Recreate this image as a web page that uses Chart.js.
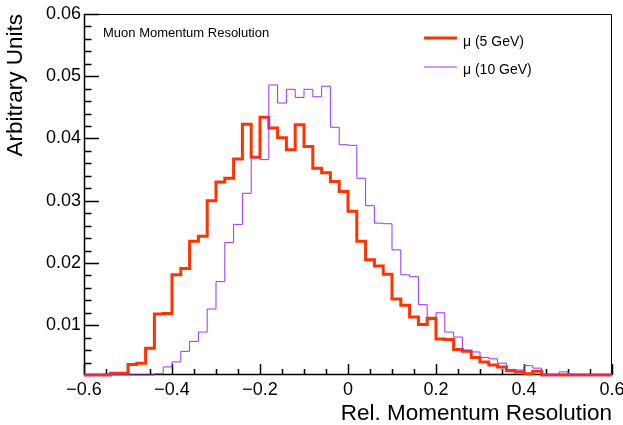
<!DOCTYPE html>
<html>
<head>
<meta charset="utf-8">
<script src="https://cdn.jsdelivr.net/npm/chart.js@4.4.1/dist/chart.umd.min.js"></script>
<style>
  html, body { margin: 0; padding: 0; background: #ffffff; }
  #wrap { width: 623px; height: 425px; }
</style>
</head>
<body>
<div id="wrap"><canvas id="c" width="623" height="425"></canvas></div>
<script>
// ---------------- data ----------------
const X_MIN = -0.6, X_MAX = 0.6, BIN_WIDTH = 0.02;
const Y_MIN = 0.002, Y_MAX = 0.06;
const X_TICKS = [-0.6, -0.4, -0.2, 0, 0.2, 0.4, 0.6];
const X_TICK_LABELS = ['\u22120.6', '\u22120.4', '\u22120.2', '0', '0.2', '0.4', '0.6'];
const Y_TICKS = [0.01, 0.02, 0.03, 0.04, 0.05, 0.06];
const Y_TICK_LABELS = ['0.01', '0.02', '0.03', '0.04', '0.05', '0.06'];
const X_MINOR_STEP = 0.05, Y_MINOR_STEP = 0.002;
const SERIES_LABELS = ['\u03bc (5 GeV)', '\u03bc (10 GeV)'];
const PLOT_LABEL = 'Muon Momentum Resolution';
const X_TITLE = 'Rel. Momentum Resolution';
const Y_TITLE = 'Arbitrary Units';

// bin contents, 60 bins of width 0.02 from -0.6 to 0.6
const mu5GeV = [
  0.001, 0.001, 0.001, 0.0023, 0.0023, 0.0037, 0.0039, 0.0063, 0.0118, 0.0119,
  0.0181, 0.0191, 0.0235, 0.0243, 0.0300, 0.0330, 0.0336, 0.0367, 0.0423, 0.0370,
  0.0434, 0.0417, 0.0401, 0.0382, 0.0422, 0.0387, 0.0352, 0.0345, 0.0331, 0.0315,
  0.0283, 0.0235, 0.0205, 0.0195, 0.0182, 0.0142, 0.0132, 0.0113, 0.0101, 0.0111,
  0.0078, 0.0077, 0.0061, 0.0058, 0.0048, 0.0041, 0.0036, 0.0033, 0.0027, 0.0025,
  0.0022, 0.0026, 0.001, 0.001, 0.001, 0.001, 0.001, 0.001, 0.001, 0.001
];
const mu10GeV = [
  0.001, 0.001, 0.001, 0.001, 0.001, 0.001, 0.001, 0.001, 0.0022, 0.0033,
  0.0041, 0.0058, 0.0074, 0.0089, 0.0126, 0.0170, 0.0233, 0.0262, 0.0312, 0.0370,
  0.0366, 0.0486, 0.0457, 0.0479, 0.0466, 0.0479, 0.0467, 0.0484, 0.0418, 0.0390,
  0.0389, 0.0336, 0.0292, 0.0264, 0.0263, 0.0221, 0.0181, 0.0178, 0.0133, 0.0109,
  0.0120, 0.0089, 0.0081, 0.0060, 0.0057, 0.0048, 0.0046, 0.0039, 0.0029, 0.0028,
  0.0035, 0.0031, 0.001, 0.001, 0.0025, 0.001, 0.001, 0.001, 0.001, 0.001
];

// ---------------- helpers ----------------
function histPoints(vals) {
  // ROOT draws bins below the frame minimum along the frame bottom
  const pts = vals.map((v, i) => ({ x: +(X_MIN + i * BIN_WIDTH).toFixed(4), y: Math.max(v, Y_MIN) }));
  pts.push({ x: X_MAX, y: Math.max(vals[vals.length - 1], Y_MIN) });
  return pts;
}

const FONT = "'Liberation Sans', Arial, Helvetica, sans-serif";

const rootStyle = {
  id: 'rootStyle',
  beforeDatasetsDraw(chart) {
    const { ctx, chartArea: a, scales: { x, y } } = chart;
    ctx.save();
    ctx.strokeStyle = '#000';
    ctx.lineWidth = 1;
    // frame
    ctx.beginPath();
    ctx.moveTo(a.left + 0.5, a.top + 0.5);
    ctx.lineTo(a.right - 0.5, a.top + 0.5);
    ctx.lineTo(a.right - 0.5, a.bottom - 0.5);
    ctx.stroke();
    ctx.lineWidth = 1.5;
    ctx.beginPath();
    ctx.moveTo(a.left + 0.5, a.top);
    ctx.lineTo(a.left + 0.5, a.bottom - 0.5);
    ctx.lineTo(a.right, a.bottom - 0.5);
    ctx.stroke();
    // y ticks (inside)
    ctx.lineWidth = 1.5;
    ctx.beginPath();
    const nyMinor = Math.round((Y_MAX - Y_MIN) / Y_MINOR_STEP);
    for (let k = 0; k <= nyMinor; k++) {
      const v = Y_MIN + k * Y_MINOR_STEP;
      const isMajor = Y_TICKS.some(t => Math.abs(t - v) < 1e-9);
      const py = Math.round(y.getPixelForValue(v)) + 0.5;
      if (py > a.bottom - 1) continue;
      const len = isMajor ? 15 : 7.5;
      ctx.moveTo(a.left, py);
      ctx.lineTo(a.left + len, py);
    }
    // x ticks (inside)
    const nxMinor = Math.round((X_MAX - X_MIN) / X_MINOR_STEP);
    for (let k = 0; k <= nxMinor; k++) {
      const v = X_MIN + k * X_MINOR_STEP;
      const isMajor = X_TICKS.some(t => Math.abs(t - v) < 1e-9);
      const px = Math.round(x.getPixelForValue(v)) + 0.5;
      const len = isMajor ? 11 : 6;
      ctx.moveTo(px, a.bottom);
      ctx.lineTo(px, a.bottom - len);
    }
    ctx.stroke();
    ctx.restore();
  },
  afterDraw(chart) {
    const { ctx } = chart;
    ctx.save();
    ctx.fillStyle = '#000';
    ctx.textBaseline = 'alphabetic';
    ctx.textAlign = 'left';
    ctx.font = '13px ' + FONT;
    ctx.fillText(PLOT_LABEL, 103, 37);
    // legend
    const rows = [{ ly: 38, ty: 45.7 }, { ly: 67, ty: 74.3 }];
    chart.data.datasets.forEach((ds, i) => {
      ctx.strokeStyle = ds.borderColor;
      ctx.lineWidth = ds.borderWidth;
      ctx.beginPath();
      ctx.moveTo(424, rows[i].ly);
      ctx.lineTo(457, rows[i].ly);
      ctx.stroke();
      ctx.font = '14px ' + FONT;
      ctx.fillStyle = '#000';
      ctx.fillText(ds.label, 463, rows[i].ty);
    });
    ctx.restore();
  }
};

function noLabelPadding(s) {
  s.paddingLeft = 0; s.paddingRight = 0; s.paddingTop = 0; s.paddingBottom = 0;
}

new Chart(document.getElementById('c'), {
  type: 'line',
  data: {
    datasets: [
      {
        label: SERIES_LABELS[0],
        data: histPoints(mu5GeV),
        borderColor: '#ff3300',
        borderWidth: 3,
        stepped: true,
        pointRadius: 0,
        fill: false,
        borderJoinStyle: 'miter',
        clip: false,
        order: 1
      },
      {
        label: SERIES_LABELS[1],
        data: histPoints(mu10GeV),
        borderColor: '#9933ff',
        borderWidth: 1,
        stepped: true,
        pointRadius: 0,
        fill: false,
        borderJoinStyle: 'miter',
        clip: false,
        order: 0
      }
    ]
  },
  options: {
    responsive: false,
    animation: false,
    devicePixelRatio: 1,
    layout: { autoPadding: false, padding: { top: 14, right: 11, left: 0, bottom: 0 } },
    plugins: { legend: { display: false }, tooltip: { enabled: false }, title: { display: false } },
    scales: {
      x: {
        type: 'linear',
        min: X_MIN, max: X_MAX,
        afterBuildTicks: s => { s.ticks = X_TICKS.map(v => ({ value: v })); },
        afterFit: s => { s.height = 50; noLabelPadding(s); },
        grid: { display: false, drawTicks: false },
        border: { display: false },
        ticks: {
          callback: (v, i) => X_TICK_LABELS[i],
          font: { family: FONT, size: 18 },
          color: '#000',
          padding: 4,
          maxRotation: 0,
          autoSkip: false
        },
        title: {
          display: true, text: X_TITLE, align: 'end', color: '#000',
          font: { family: FONT, size: 22.5, lineHeight: 1 },
          padding: { top: 0, bottom: 0 }
        }
      },
      y: {
        type: 'linear',
        min: Y_MIN, max: Y_MAX,
        afterBuildTicks: s => { s.ticks = Y_TICKS.map(v => ({ value: v })); },
        afterFit: s => { s.width = 84; noLabelPadding(s); },
        grid: { display: false, drawTicks: false },
        border: { display: false },
        ticks: {
          callback: (v, i) => Y_TICK_LABELS[i],
          font: { family: FONT, size: 18 },
          color: '#000',
          padding: 3,
          autoSkip: false
        },
        title: {
          display: true, text: Y_TITLE, align: 'end', color: '#000',
          font: { family: FONT, size: 22.5, lineHeight: 1 },
          padding: { top: 5, bottom: 0 }
        }
      }
    }
  },
  plugins: [rootStyle]
});
</script>
</body>
</html>
